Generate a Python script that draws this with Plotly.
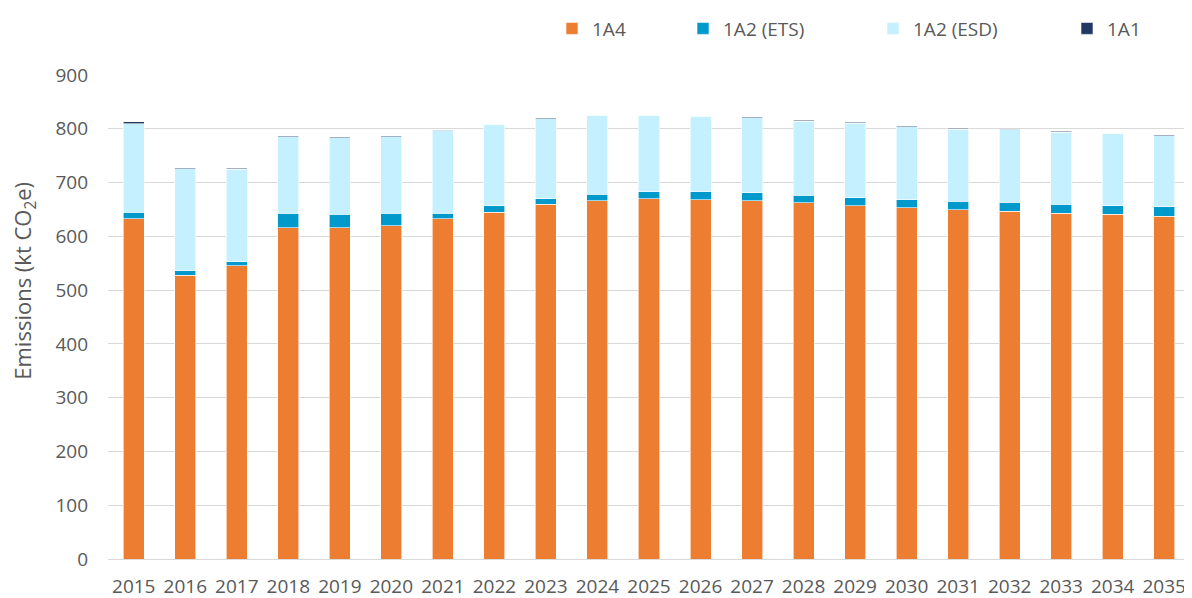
import plotly.graph_objects as go

years = [str(y) for y in range(2015, 2036)]

# kt CO2e
s_1a4 = [633, 528, 545, 616, 616, 620, 633, 645, 660, 666, 670,
         668, 666, 662, 657, 653, 649, 647, 642.5, 641, 637]
s_1a2_ets = [12, 8, 8, 27, 25, 23, 10, 12, 10, 12, 12.5,
             14.5, 15, 14.5, 15, 15, 16.5, 16.5, 17, 16, 18]
s_1a2_esd = [164, 190, 172, 142, 142, 142, 153, 151, 149, 147, 142.5,
             140.5, 139.5, 137.5, 138.5, 136, 134, 134.5, 134, 134.5, 132.5]
s_1a1 = [4, 2, 1.5, 2, 2, 2, 1.5, 1.5, 1.5, 1.5, 1.5,
         1.5, 1.5, 1.5, 1.5, 1.5, 1.5, 1.5, 1.5, 1.5, 1.5]

series = [
    ("1A4", s_1a4, "#ED7D31", "legend"),
    ("1A2 (ETS)", s_1a2_ets, "#0099CC", "legend2"),
    ("1A2 (ESD)", s_1a2_esd, "#C5F0FF", "legend3"),
    ("1A1", s_1a1, "#1F3864", "legend4"),
]

FONT = "Open Sans"
GREY = "#595959"

fig = go.Figure()
for name, vals, color, leg in series:
    fig.add_trace(go.Bar(
        x=years, y=vals, name=name, legend=leg, showlegend=True,
        marker=dict(color=color, line=dict(color="white", width=0.6)),
    ))

# page body has an 8px margin, so the figure is 8px smaller each way
# plot area in reference pixels: x 108..1190, y 72..559
def px_to_paper(px):
    return (px - 108) / 1082

leg_common = dict(orientation="h", yanchor="middle", y=1.096, xanchor="left",
                  bgcolor="rgba(0,0,0,0)", font=dict(family=FONT, size=19, color=GREY))

fig.update_layout(
    barmode="stack",
    bargap=0.592,
    width=1184, height=590,
    margin=dict(l=100, r=2, t=64, b=39),
    showlegend=True,
    plot_bgcolor="white", paper_bgcolor="white",
    font=dict(family=FONT, size=19, color=GREY),
    legend=dict(x=px_to_paper(552), **leg_common),
    legend2=dict(x=px_to_paper(683), **leg_common),
    legend3=dict(x=px_to_paper(873), **leg_common),
    legend4=dict(x=px_to_paper(1067), **leg_common),
    xaxis=dict(showgrid=False, showline=True, linecolor="#D9D9D9", linewidth=1,
               tickfont=dict(family=FONT, size=19, color=GREY),
               ticklabelstandoff=10, automargin=False),
    yaxis=dict(range=[0, 900], dtick=100, showgrid=True, gridcolor="#D9D9D9",
               gridwidth=1, zeroline=False, automargin=False,
               tickfont=dict(family=FONT, size=19, color=GREY),
               ticklabelstandoff=19),
    annotations=[dict(
        text="Emissions (kt CO<sub>2</sub>e)", textangle=-90,
        xref="paper", yref="paper", x=px_to_paper(24), y=(559 - 279) / 487,
        xanchor="center", yanchor="middle", showarrow=False,
        font=dict(family=FONT, size=22, color=GREY),
    )],
)

fig.write_html("out.html")
